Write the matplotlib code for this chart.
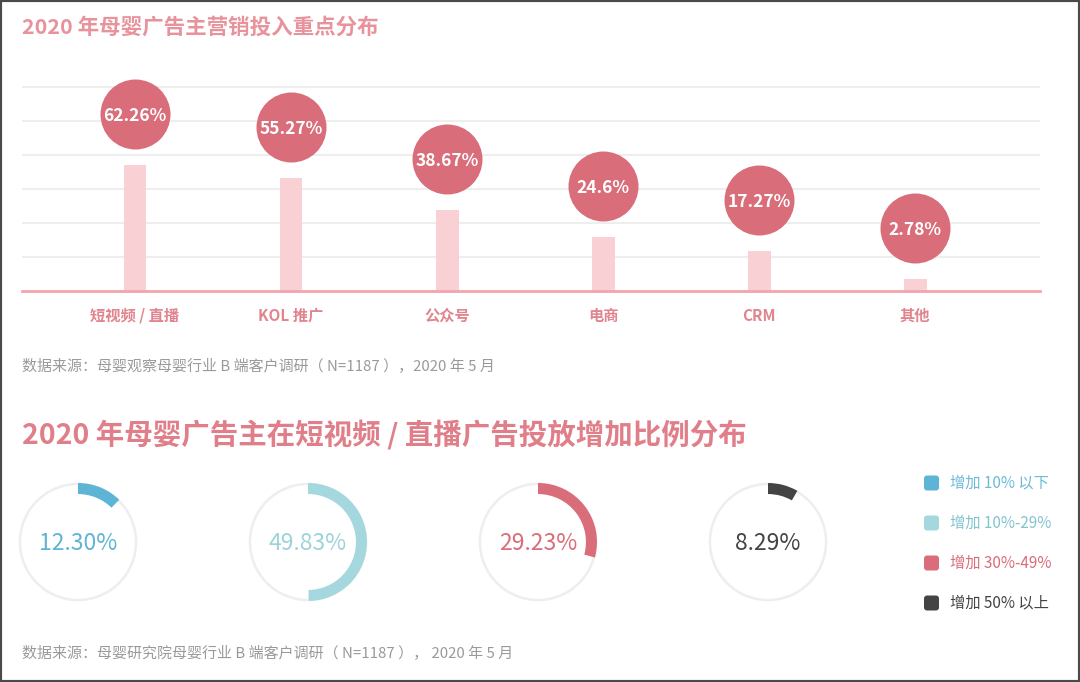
import numpy as np
import matplotlib
matplotlib.use('Agg')
import matplotlib.pyplot as plt
from matplotlib.patches import Circle, FancyBboxPatch, Rectangle
from matplotlib.transforms import ScaledTranslation

plt.rcParams['font.family'] = ['Noto Sans CJK SC', 'DejaVu Sans']

# 上图：营销投入重点
categories = ['短视频 / 直播', 'KOL 推广', '公众号', '电商', 'CRM', '其他']
shares = [62.26, 55.27, 38.67, 24.6, 17.27, 2.78]
share_labels = ['62.26%', '55.27%', '38.67%', '24.6%', '17.27%', '2.78%']

# 下图：短视频/直播投放增加比例
ranges = ['增加 10% 以下', '增加 10%-29%', '增加 30%-49%', '增加 50% 以上']
ratios = [12.30, 49.83, 29.23, 8.29]
ratio_labels = ['12.30%', '49.83%', '29.23%', '8.29%']
ring_colors = ['#5DB4D4', '#A4D8DE', '#D96D7A', '#444444']
text_colors = ['#5DB4D4', '#9DD3DA', '#D96D7A', '#444444']
legend_colors = ['#6CBBD8', '#82C4CE', '#D96D7A', '#444444']

title1 = '2020 年母婴广告主营销投入重点分布'
title2 = '2020 年母婴广告主在短视频 / 直播广告投放增加比例分布'
source1 = '数据来源：母婴观察母婴行业 B 端客户调研（ N=1187 ），2020 年 5 月'
source2 = '数据来源：母婴研究院母婴行业 B 端客户调研（ N=1187 ）， 2020 年 5 月'

W, H = 1080, 682
fig = plt.figure(figsize=(W / 100, H / 100), dpi=100)


def px(x0, y0, x1, y1):
    # pixel box, top-left origin -> figure fraction
    return [x0 / W, 1 - y1 / H, (x1 - x0) / W, (y1 - y0) / H]


# ---- top chart
ax = fig.add_axes(px(22, 71, 1040, 291))
x = np.arange(len(categories))
y0 = -3.5
ax.bar(x, np.array(shares) - y0, bottom=y0, width=0.147, color='#F9D1D4', zorder=2)
ax.set_xlim(-0.724, 5.80)
ax.set_ylim(y0, y0 + 220 / 1.917)
ax.set_yticks(y0 + 17.75 * np.arange(1, 7))
ax.yaxis.grid(True, color='#EEEEEE', lw=1.5)
ax.set_axisbelow(True)
ax.tick_params(axis='y', length=0, labelleft=False)
for s in ['top', 'right', 'left']:
    ax.spines[s].set_visible(False)
ax.spines['bottom'].set_color('#F2A5AD')
ax.spines['bottom'].set_linewidth(2)
ax.set_xticks(x, categories)
ax.tick_params(axis='x', length=0, pad=12, labelcolor='#E0848E', labelsize=11)
for lbl in ax.get_xticklabels():
    lbl.set_fontweight('bold')

tr = ax.transData + ScaledTranslation(0, 0.51, fig.dpi_scale_trans)
ax.scatter(x, shares, s=(70 * 0.72) ** 2, color='#D96D7A', transform=tr,
           zorder=3, clip_on=False, linewidths=0)
for i, v in enumerate(shares):
    ax.text(i, v, share_labels[i], transform=tr, ha='center', va='center_baseline',
            color='white', fontsize=12.5, fontweight='bold', zorder=4)

fig.text(22 / W, 1 - 27 / H, title1, fontsize=15.5, color='#E8939C',
         fontweight='bold', va='center')
fig.text(22 / W, 1 - 366 / H, source1, fontsize=10.8, color='#9A9A9A', va='center')

# ---- bottom donuts
fig.text(22 / W, 1 - 435 / H, title2, fontsize=20.5, color='#E07E89',
         fontweight='bold', va='center')

for i, r in enumerate(ratios):
    cx = 78 + 230 * i
    dax = fig.add_axes(px(cx - 70, 542 - 70, cx + 70, 542 + 70))
    dax.add_patch(Circle((0, 0), 0.995, fill=False, ec='#EEEEEE', lw=1.8, zorder=0))
    dax.pie([r, 100 - r], colors=[ring_colors[i], (0, 0, 0, 0)], startangle=90,
            counterclock=False, radius=1.011,
            wedgeprops=dict(width=0.189, linewidth=0))
    dax.set_xlim(-1.2, 1.2)
    dax.set_ylim(-1.2, 1.2)
    dax.axis('off')
    dax.text(0, -0.02, ratio_labels[i], ha='center', va='center', fontsize=16.5,
             color=text_colors[i])

# legend
for i, lab in enumerate(ranges):
    yc = 483 + 40 * i
    fig.patches.append(FancyBboxPatch((9.24, (H - yc - 7.5) / 100), 0.15, 0.15,
                                      boxstyle='round,pad=0,rounding_size=0.03',
                                      transform=fig.dpi_scale_trans,
                                      fc=ring_colors[i], ec='none'))
    fig.text(950 / W, 1 - yc / H, lab, fontsize=11, color=legend_colors[i], va='center')

fig.text(22 / W, 1 - 653 / H, source2, fontsize=10.8, color='#9A9A9A', va='center')

fig.patches.append(Rectangle((0, 0), 1, 1, transform=fig.transFigure, fill=False,
                             ec='#4A4A4A', lw=3, clip_on=False))

fig.savefig('out.png', dpi=100)
